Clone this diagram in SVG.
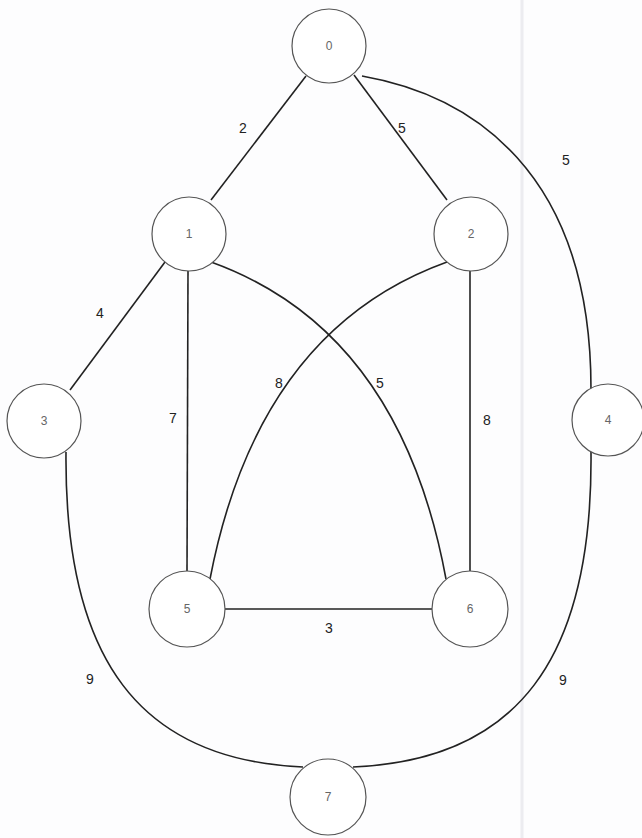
<svg xmlns="http://www.w3.org/2000/svg" width="642" height="838" viewBox="0 0 642 838">
<style>
.node circle{fill:#fff;stroke:#555;stroke-width:1.2}
.node text{font-family:"Liberation Sans",Arial,sans-serif;font-size:12px;fill:#666;text-anchor:middle;dominant-baseline:central}
.edges path,.edges line{fill:none;stroke:#222;stroke-width:1.6}
.lbl{font-family:"Liberation Sans",Arial,sans-serif;font-size:14px;fill:#222;text-anchor:middle;dominant-baseline:central}
</style>
<rect width="642" height="838" fill="#fdfdfe"/>
<line x1="522" y1="0" x2="522" y2="838" stroke="#ececf0" stroke-width="3"/>
<g class="edges">
<line x1="306" y1="76" x2="211" y2="200"/>
<line x1="354" y1="75" x2="447" y2="200"/>
<path d="M362,76 C470,95 591,170 591,389"/>
<line x1="165" y1="262" x2="70" y2="390"/>
<line x1="188" y1="271" x2="187" y2="572"/>
<line x1="470" y1="271" x2="470" y2="572"/>
<path d="M211,262 Q400,330 446,579"/>
<path d="M447,262 Q258,330 210,579"/>
<line x1="225" y1="609" x2="432" y2="609"/>
<path d="M66,452 C64,660 140,760 303,767"/>
<path d="M591,452 C593,660 517,760 353,767"/>
</g>
<g class="labels">
<text class="lbl" x="243" y="128">2</text>
<text class="lbl" x="402" y="128">5</text>
<text class="lbl" x="566" y="160">5</text>
<text class="lbl" x="100" y="313">4</text>
<text class="lbl" x="173" y="418">7</text>
<text class="lbl" x="487" y="420">8</text>
<text class="lbl" x="279" y="383">8</text>
<text class="lbl" x="380" y="383">5</text>
<text class="lbl" x="329" y="628">3</text>
<text class="lbl" x="90" y="679">9</text>
<text class="lbl" x="563" y="680">9</text>
</g>
<g id="n0" class="node"><circle cx="329" cy="46" r="37"/><text x="329" y="46">0</text></g>
<g id="n1" class="node"><circle cx="189" cy="234" r="37"/><text x="189" y="234">1</text></g>
<g id="n2" class="node"><circle cx="471" cy="234" r="37"/><text x="471" y="234">2</text></g>
<g id="n3" class="node"><circle cx="44" cy="421" r="37"/><text x="44" y="421">3</text></g>
<g id="n4" class="node"><circle cx="608" cy="420" r="36"/><text x="608" y="420">4</text></g>
<g id="n5" class="node"><circle cx="187" cy="609" r="38"/><text x="187" y="609">5</text></g>
<g id="n6" class="node"><circle cx="470" cy="609" r="38"/><text x="470" y="609">6</text></g>
<g id="n7" class="node"><circle cx="328" cy="797" r="38"/><text x="328" y="797">7</text></g>
</svg>
